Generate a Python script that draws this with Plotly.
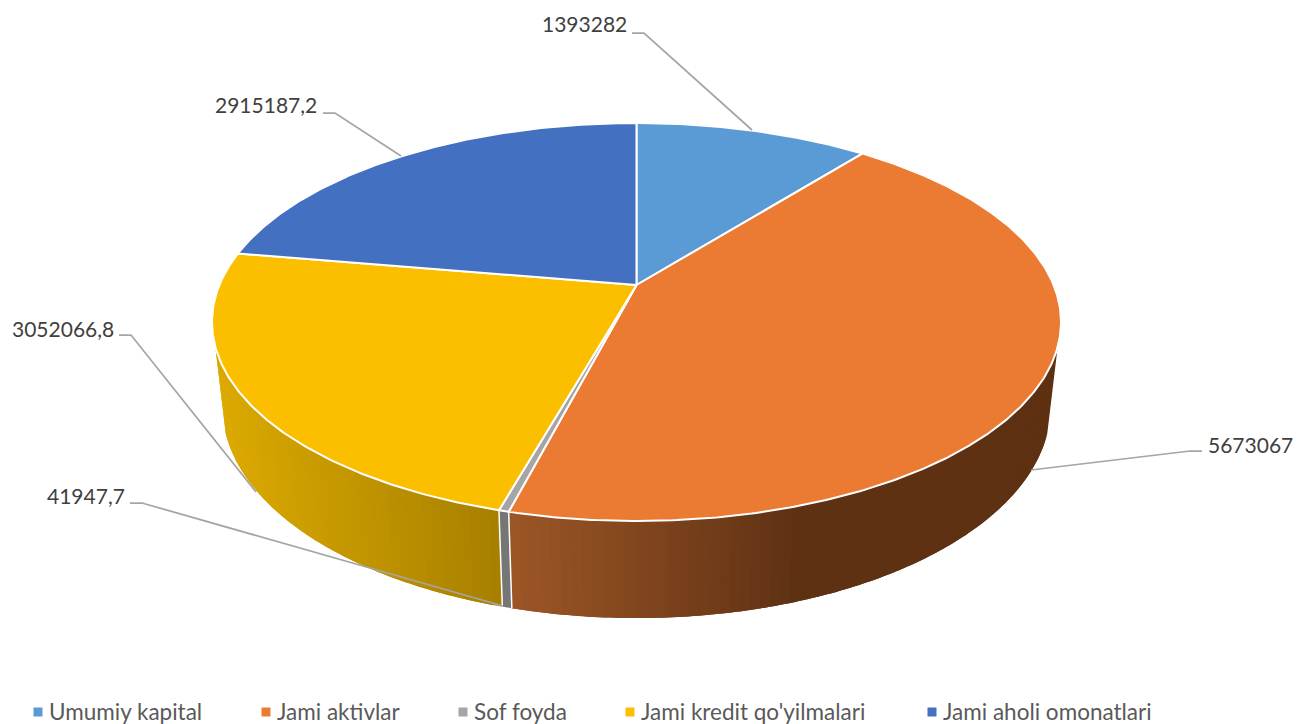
import numpy as np
import plotly.graph_objects as go

categories = ["Umumiy kapital", "Jami aktivlar", "Sof foyda", "Jami kredit qo'yilmalari", "Jami aholi omonatlari"]
values = [1393282, 5673067, 41947.7, 3052066.8, 2915187.2]
top_colors = ["#5B9BD5", "#EB7B32", "#A5A5A5", "#FBBF00", "#4370C0"]

# Side-wall shading: (x at start, colour), (x at end, colour); slices on the back have no wall
side_shades = {
    1: ((512, (156, 86, 38)), (800, (94, 49, 19))),
    2: ((500, (118, 118, 118)), (515, (118, 118, 118))),
    3: ((215, (220, 170, 0)), (495, (168, 128, 0))),
}

# Projection of the disc (perspective camera tilted over the pie)
CX, PERSP = 636.5, 0.186
TOP = dict(cy=285.0, a=192.1, b=417.1)
BOTTOM = dict(cy=367.8, a=203.7, b=406.8)
WALL_FROM, WALL_TO = 107.7, 252.3

# Labels and leader lines: label anchor, text anchor side, leader path in page pixels
label_layout = [
    dict(xy=(629, 23), side="right", path=[(632, 33), (644, 33), (752, 130)]),
    dict(xy=(1206, 444), side="left", path=[(1202, 451), (1190, 451), (1031, 470)]),
    dict(xy=(127, 495), side="right", path=[(130, 503), (142, 503), (503, 606)]),
    dict(xy=(116, 328), side="right", path=[(119, 335), (131, 335), (256, 492)]),
    dict(xy=(319, 104), side="right", path=[(323, 113), (335, 113), (401, 156)]),
]
legend_x = [38, 266, 463, 630, 932]
legend_y = 712
FONT = "Lato"


def project(theta_deg, disc):
    t = np.radians(np.asarray(theta_deg, dtype=float))
    X, Y = np.sin(t), np.cos(t)
    w = 1 + PERSP * Y
    return CX + disc["b"] * X / w, disc["cy"] - disc["a"] * Y / w


def fmt(v):
    return str(v).replace(".", ",")


def lerp_colour(shade, x):
    (x0, c0), (x1, c1) = shade
    f = min(1.0, max(0.0, (x - x0) / (x1 - x0)))
    return "rgb(%d,%d,%d)" % tuple(round(a + (b - a) * f) for a, b in zip(c0, c1))


total = sum(values)
edges = np.concatenate([[0], np.cumsum(values) / total * 360])

fig = go.Figure()

# Side walls, as narrow shaded strips; each strip runs under the next so no seam shows
for i, shade in side_shades.items():
    start, stop = max(edges[i], WALL_FROM), min(edges[i + 1], WALL_TO)
    if stop <= start:
        continue
    n = max(1, int((stop - start) / 1.2))
    cuts = np.linspace(start, stop, n + 1)
    step = cuts[1] - cuts[0]
    for a0 in cuts[:-1]:
        arc = np.linspace(a0, min(a0 + 2 * step, stop), 5)
        xt, yt = project(arc, TOP)
        xb, yb = project(arc[::-1], BOTTOM)
        col = lerp_colour(shade, float(project([a0 + step / 2], TOP)[0][0]))
        fig.add_trace(go.Scatter(
            x=np.concatenate([xt, xb]), y=np.concatenate([yt, yb]),
            mode="none", fill="toself", fillcolor=col,
            hoverinfo="skip", showlegend=False))

# White seams between neighbouring wall sections
for e in edges[1:]:
    if WALL_FROM < e < WALL_TO:
        xt, yt = project([e], TOP)
        xb, yb = project([e], BOTTOM)
        fig.add_trace(go.Scatter(
            x=[xt[0], xb[0]], y=[yt[0], yb[0]], mode="lines",
            line=dict(color="white", width=1.5), hoverinfo="skip", showlegend=False))

# Top faces
for i, name in enumerate(categories):
    arc = np.linspace(edges[i], edges[i + 1], max(3, int((edges[i + 1] - edges[i]) * 2)))
    x, y = project(arc, TOP)
    fig.add_trace(go.Scatter(
        x=np.concatenate([[CX], x, [CX]]), y=np.concatenate([[TOP["cy"]], y, [TOP["cy"]]]),
        mode="lines", fill="toself", fillcolor=top_colors[i],
        line=dict(color="white", width=2), name=name, hoverinfo="name", showlegend=False))

# Leader lines and value labels
for v, lab in zip(values, label_layout):
    px = [p[0] for p in lab["path"]]
    py = [p[1] for p in lab["path"]]
    fig.add_trace(go.Scatter(x=px, y=py, mode="lines", line=dict(color="#A5A5A5", width=1.75),
                             hoverinfo="skip", showlegend=False))
    fig.add_annotation(x=lab["xy"][0], y=lab["xy"][1], text=fmt(v), showarrow=False,
                       xanchor=lab["side"], yanchor="middle",
                       font=dict(family=FONT, size=21, color="#404040"))

# Legend row
for i, name in enumerate(categories):
    fig.add_trace(go.Scatter(
        x=[legend_x[i]], y=[legend_y], mode="markers", cliponaxis=False,
        marker=dict(symbol="square", size=9, color=top_colors[i]),
        hoverinfo="skip", showlegend=False))
    fig.add_annotation(x=legend_x[i] + 10, y=legend_y - 1, text=name, showarrow=False,
                       xanchor="left", yanchor="middle", borderpad=0,
                       font=dict(family=FONT, size=22.5, color="#595959"))

fig.update_layout(
    width=1297, height=724, margin=dict(l=0, r=0, t=0, b=0),
    paper_bgcolor="white", plot_bgcolor="white", showlegend=False,
    xaxis=dict(range=[0, 1297], visible=False, fixedrange=True),
    yaxis=dict(range=[724, 0], visible=False, fixedrange=True),
)
fig.write_html("out.html", config=dict(displayModeBar=False),
               post_script="document.body.style.margin='0';document.documentElement.style.overflow='hidden';")
